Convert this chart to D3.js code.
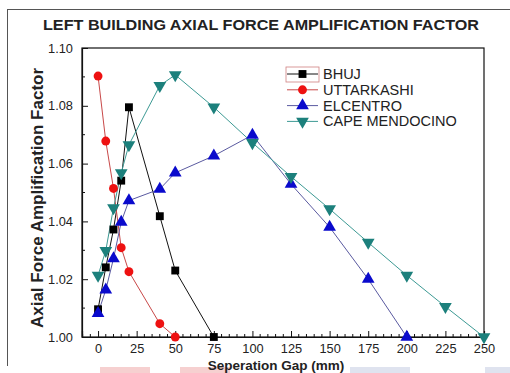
<!DOCTYPE html>
<html><head><meta charset="utf-8">
<script src="https://cdn.jsdelivr.net/npm/d3@7/dist/d3.min.js"></script>
<style>body{margin:0;background:#fff}svg{display:block}text{font-family:Arial,"Liberation Sans",sans-serif}</style>
</head><body>
<script>
const seriesNames = ["BHUJ","UTTARKASHI","ELCENTRO","CAPE MENDOCINO"];
const bhujX = [0,5,10,15,20,40,50,75];
const bhujY = [1.0096,1.0241,1.0372,1.0541,1.0795,1.0418,1.0230,1.0000];
const uttarX = [0,5,10,15,20,40,50];
const uttarY = [1.0903,1.0678,1.0514,1.0309,1.0226,1.0046,1.0000];
const elcX = [0,5,10,15,20,40,50,75,100,125,150,175,200];
const elcY = [1.0082,1.0163,1.0271,1.0398,1.0472,1.0512,1.0568,1.0627,1.0699,1.0529,1.0380,1.0200,1.0000];
const capeX = [0,5,10,15,20,40,50,75,100,125,150,175,200,225,250];
const capeY = [1.0213,1.0299,1.0447,1.0568,1.0665,1.0870,1.0907,1.0795,1.0672,1.0555,1.0443,1.0327,1.0213,1.0105,1.0000];
const xTicks = [0,25,50,75,100,125,150,175,200,225,250];
const yTicks = [1.00,1.02,1.04,1.06,1.08,1.10];

const W=510,H=373;
const svg=d3.select("body").append("svg").attr("width",W).attr("height",H);
const L=82,R=484,T=48,B=337;
const x=d3.scaleLinear().domain([-10.4,250]).range([L,R]);
const y=d3.scaleLinear().domain([1.0,1.10]).range([B,T]);

// outer frame
svg.append("line").attr("x1",7).attr("x2",W).attr("y1",9.5).attr("y2",9.5).attr("stroke","#555").attr("stroke-width",1);
svg.append("line").attr("x1",7.5).attr("x2",7.5).attr("y1",9).attr("y2",366).attr("stroke","#555").attr("stroke-width",1);

// faint artifacts at bottom
[[100,150,"#f6d0d0"],[180,230,"#f6d0d0"],[350,410,"#dfe3ef"],[485,510,"#dfe3ef"]].forEach(d=>{
  svg.append("rect").attr("x",d[0]).attr("y",367).attr("width",d[1]-d[0]).attr("height",6).attr("fill",d[2]);
});

// title
svg.append("text").attr("x",261).attr("y",30).attr("text-anchor","middle")
  .attr("font-size",15).attr("font-weight","bold").attr("fill","#222")
  .attr("textLength",436).attr("lengthAdjust","spacingAndGlyphs")
  .text("LEFT BUILDING AXIAL FORCE AMPLIFICATION FACTOR");

// plot frame
svg.append("rect").attr("x",L).attr("y",T).attr("width",R-L).attr("height",B-T).attr("fill","none").attr("stroke","#111").attr("stroke-width",1.2);

// axes with inward ticks
const xAxis=d3.axisBottom(x).tickValues(xTicks).tickSize(-6).tickPadding(7).tickFormat(d3.format("d"));
const gx=svg.append("g").attr("transform",`translate(0,${B})`).call(xAxis);
const xMinor=d3.range(-10,251,5).filter(v=>v%25!==0);
svg.append("g").selectAll("line").data(xMinor).join("line")
  .attr("x1",d=>x(d)).attr("x2",d=>x(d)).attr("y1",B).attr("y2",B-3).attr("stroke","#111");
const yAxis=d3.axisLeft(y).tickValues(yTicks).tickSize(-6).tickPadding(9).tickFormat(d3.format(".2f"));
const gy=svg.append("g").attr("transform",`translate(${L},0)`).call(yAxis);
const yMinor=[1.01,1.03,1.05,1.07,1.09];
svg.append("g").selectAll("line").data(yMinor).join("line")
  .attr("x1",L).attr("x2",L+3).attr("y1",d=>y(d)).attr("y2",d=>y(d)).attr("stroke","#111");
[gx,gy].forEach(g=>{g.select(".domain").attr("stroke","#111").attr("stroke-width",1.2);
  g.selectAll(".tick line").attr("stroke","#111");
  g.selectAll("text").attr("font-size",12.8).attr("fill","#222").attr("font-family","Arial, Liberation Sans, sans-serif");});

// axis labels
svg.append("text").attr("transform","translate(43,198) rotate(-90)").attr("text-anchor","middle")
  .attr("font-size",17).attr("font-weight","bold").attr("fill","#222").text("Axial Force Amplification Factor");
svg.append("text").attr("x",276).attr("y",369.8).attr("text-anchor","middle")
  .attr("font-size",13.5).attr("font-weight","bold").attr("fill","#222").text("Seperation Gap (mm)");

const series=[
  {name:seriesNames[0],xs:bhujX,ys:bhujY,line:"#111",fill:"#000",shape:"square"},
  {name:seriesNames[1],xs:uttarX,ys:uttarY,line:"#c84848",fill:"#ee1111",shape:"circle"},
  {name:seriesNames[2],xs:elcX,ys:elcY,line:"#5a5aa0",fill:"#0a0acc",shape:"up"},
  {name:seriesNames[3],xs:capeX,ys:capeY,line:"#3d9a94",fill:"#1c807c",shape:"down"}
];
const sym={square:d3.symbol().type(d3.symbolSquare).size(62),
  circle:d3.symbol().type(d3.symbolCircle).size(62),
  up:d3.symbol().type(d3.symbolTriangle).size(70)};
function drawSym(g,shape,cx,cy,fill){
  if(shape==="down"){
    g.append("path").attr("d",d3.symbol().type(d3.symbolTriangle).size(70)()).attr("transform",`translate(${cx},${cy}) rotate(180)`).attr("fill",fill);
  } else g.append("path").attr("d",sym[shape]()).attr("transform",`translate(${cx},${cy})`).attr("fill",fill);
}
const clip=svg.append("g");
series.forEach(s=>{
  const pts=s.xs.map((v,i)=>[v,s.ys[i]]);
  clip.append("path").attr("d",d3.line().x(d=>x(d[0])).y(d=>y(d[1]))(pts)).attr("fill","none").attr("stroke",s.line).attr("stroke-width",1);
});
series.forEach(s=>{
  s.xs.forEach((v,i)=>drawSym(clip,s.shape,x(v),y(s.ys[i]),s.fill));
});

// legend
const lg=svg.append("g");
lg.append("rect").attr("x",286).attr("y",67).attr("width",33).attr("height",15).attr("fill","none").attr("stroke","#d08080").attr("stroke-width",0.8);
series.forEach((s,i)=>{
  const yy=74+i*15.8;
  lg.append("line").attr("x1",287).attr("x2",318).attr("y1",yy).attr("y2",yy).attr("stroke",s.line).attr("stroke-width",1);
  drawSym(lg,s.shape,302.5,yy,s.fill);
  lg.append("text").attr("x",323).attr("y",yy+5).attr("font-size",14.5).attr("fill","#222").text(s.name);
});
</script>
</body></html>
